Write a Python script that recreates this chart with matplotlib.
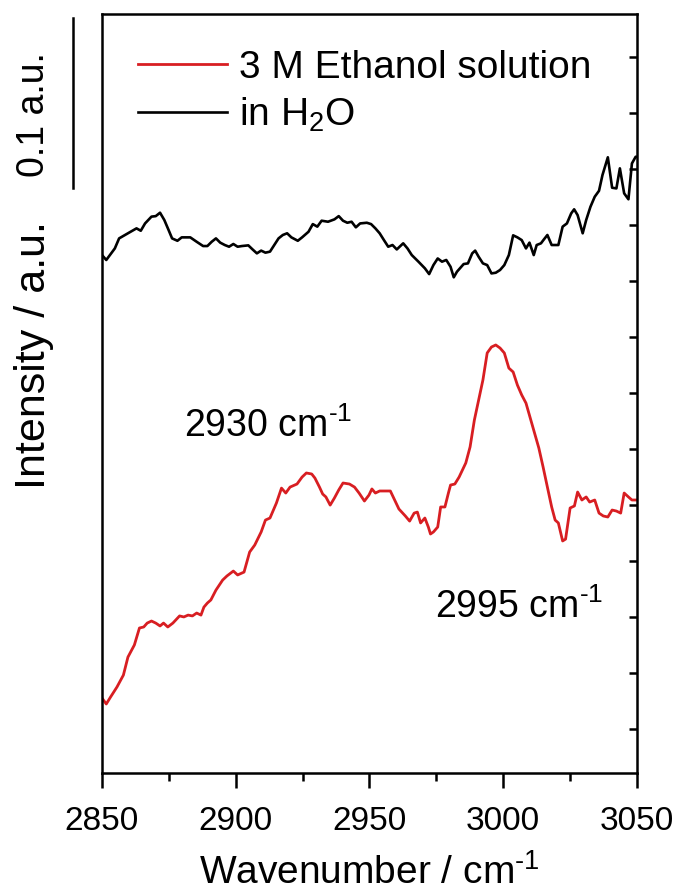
import numpy as np
import matplotlib
matplotlib.use("Agg")
import matplotlib.pyplot as plt
from matplotlib.ticker import MultipleLocator

plt.rcParams['font.family'] = ['Liberation Sans', 'DejaVu Sans']
plt.rcParams['mathtext.fontset'] = 'custom'
plt.rcParams['mathtext.rm'] = 'Liberation Sans'
plt.rcParams['mathtext.it'] = 'Liberation Sans:italic'
plt.rcParams['mathtext.bf'] = 'Liberation Sans:bold'

# 3 M ethanol solution (red), wavenumber in cm-1, intensity in a.u.
wn_eth = [2850.0, 2851.6, 2853.2, 2855.6, 2858.0, 2859.7, 2862.1, 2864.0, 2865.6, 2866.9,
          2868.5, 2870.1, 2871.7, 2873.0, 2874.6, 2876.5, 2879.0, 2880.6, 2882.2, 2883.8,
          2885.4, 2887.0, 2888.1, 2889.4, 2890.7, 2892.6, 2895.1, 2896.7, 2899.1, 2900.7,
          2903.1, 2905.2, 2907.1, 2909.5, 2911.1, 2912.8, 2915.2, 2917.1, 2918.7, 2920.3,
          2922.9, 2924.8, 2926.4, 2928.4, 2929.6, 2931.3, 2932.5, 2933.7, 2935.3, 2936.9,
          2938.5, 2940.1, 2942.5, 2944.4, 2946.1, 2948.1, 2949.8, 2950.9, 2952.2, 2953.8,
          2956.2, 2957.8, 2959.4, 2961.0, 2963.4, 2965.0, 2966.7, 2967.9, 2969.1, 2970.7,
          2972.0, 2972.8, 2973.9, 2975.5, 2976.6, 2978.2, 2979.5, 2980.3, 2981.9, 2983.5,
          2986.0, 2987.6, 2989.2, 2990.8, 2992.4, 2994.0, 2995.6, 2997.2, 2998.8, 3000.4,
          3002.1, 3003.7, 3005.3, 3006.9, 3008.5, 3010.1, 3011.7, 3013.3, 3014.9, 3016.5,
          3018.1, 3019.4, 3020.6, 3022.2, 3023.3, 3025.0, 3026.6, 3027.8, 3029.4, 3031.0,
          3032.3, 3034.2, 3035.8, 3037.4, 3039.1, 3040.7, 3042.3, 3043.9, 3045.2, 3046.8,
          3048.1, 3050.0]
int_eth = [0.0441, 0.0406, 0.0447, 0.0506, 0.0576, 0.0682, 0.0753, 0.0853, 0.0859, 0.0882,
           0.0894, 0.0882, 0.0865, 0.0882, 0.0859, 0.0882, 0.0924, 0.0918, 0.0929, 0.0924,
           0.0941, 0.0929, 0.0976, 0.1000, 0.1018, 0.1076, 0.1135, 0.1159, 0.1188, 0.1165,
           0.1182, 0.1300, 0.1341, 0.1418, 0.1488, 0.1500, 0.1588, 0.1676, 0.1647, 0.1682,
           0.1700, 0.1741, 0.1765, 0.1759, 0.1735, 0.1682, 0.1641, 0.1624, 0.1576, 0.1618,
           0.1665, 0.1706, 0.1700, 0.1682, 0.1647, 0.1600, 0.1635, 0.1671, 0.1647, 0.1659,
           0.1659, 0.1659, 0.1606, 0.1553, 0.1512, 0.1482, 0.1529, 0.1535, 0.1471, 0.1500,
           0.1447, 0.1406, 0.1418, 0.1447, 0.1565, 0.1565, 0.1647, 0.1694, 0.1700, 0.1741,
           0.1824, 0.1918, 0.2076, 0.2194, 0.2312, 0.2471, 0.2506, 0.2518, 0.2500, 0.2471,
           0.2382, 0.2359, 0.2282, 0.2224, 0.2176, 0.2088, 0.2000, 0.1912, 0.1800, 0.1682,
           0.1565, 0.1488, 0.1471, 0.1365, 0.1376, 0.1559, 0.1571, 0.1653, 0.1606, 0.1624,
           0.1594, 0.1606, 0.1529, 0.1512, 0.1506, 0.1547, 0.1541, 0.1529, 0.1647, 0.1624,
           0.1606, 0.1606]

# in H2O (black)
wn_h2o = [2850.0, 2851.6, 2854.8, 2856.4, 2859.7, 2862.9, 2864.5, 2866.1, 2868.5, 2870.1,
          2871.7, 2873.3, 2874.9, 2876.2, 2878.2, 2879.8, 2883.0, 2885.4, 2887.8, 2889.4,
          2891.0, 2892.6, 2894.2, 2895.9, 2897.5, 2899.1, 2900.7, 2902.3, 2904.7, 2906.3,
          2907.9, 2909.5, 2911.1, 2912.8, 2914.4, 2916.0, 2917.6, 2919.2, 2920.8, 2923.2,
          2924.8, 2927.2, 2928.8, 2930.5, 2932.1, 2934.5, 2936.9, 2938.5, 2940.1, 2941.7,
          2943.3, 2944.9, 2946.5, 2949.0, 2950.6, 2952.2, 2953.8, 2955.4, 2957.0, 2958.6,
          2960.2, 2962.6, 2964.2, 2965.8, 2968.3, 2970.7, 2972.3, 2973.9, 2975.5, 2977.1,
          2978.7, 2980.3, 2981.5, 2982.7, 2985.2, 2986.8, 2988.4, 2989.5, 2990.8, 2992.4,
          2994.0, 2995.6, 2997.2, 2998.8, 3000.4, 3002.1, 3003.7, 3005.3, 3006.9, 3008.5,
          3009.8, 3011.4, 3012.5, 3014.1, 3015.2, 3016.5, 3018.1, 3020.6, 3022.2, 3023.8,
          3025.4, 3026.5, 3027.8, 3029.7, 3031.0, 3032.6, 3034.2, 3035.8, 3037.1, 3039.1,
          3040.7, 3042.3, 3043.6, 3045.2, 3046.8, 3048.1, 3049.5, 3050.0]
int_h2o = [0.3047, 0.3018, 0.3086, 0.3145, 0.3175, 0.3204, 0.3190, 0.3233, 0.3273, 0.3276,
           0.3296, 0.3253, 0.3194, 0.3145, 0.3131, 0.3151, 0.3151, 0.3125, 0.3100, 0.3100,
           0.3125, 0.3145, 0.3120, 0.3106, 0.3096, 0.3112, 0.3096, 0.3100, 0.3104, 0.3080,
           0.3057, 0.3073, 0.3061, 0.3067, 0.3106, 0.3145, 0.3165, 0.3175, 0.3151, 0.3131,
           0.3151, 0.3184, 0.3229, 0.3214, 0.3249, 0.3243, 0.3257, 0.3276, 0.3249, 0.3237,
           0.3243, 0.3210, 0.3233, 0.3237, 0.3229, 0.3204, 0.3175, 0.3135, 0.3096, 0.3106,
           0.3080, 0.3116, 0.3086, 0.3047, 0.3008, 0.2969, 0.2935, 0.2988, 0.3027, 0.3008,
           0.3018, 0.2978, 0.2916, 0.2949, 0.2994, 0.2998, 0.3057, 0.3073, 0.3037, 0.2998,
           0.2988, 0.2939, 0.2943, 0.2959, 0.2988, 0.3047, 0.3163, 0.3151, 0.3135, 0.3086,
           0.3120, 0.3047, 0.3106, 0.3116, 0.3139, 0.3165, 0.3106, 0.3106, 0.3214, 0.3233,
           0.3292, 0.3316, 0.3282, 0.3175, 0.3253, 0.3331, 0.3390, 0.3425, 0.3518, 0.3622,
           0.3443, 0.3439, 0.3557, 0.3410, 0.3375, 0.3586, 0.3625, 0.3625]

red = '#d81e22'

fig = plt.figure(figsize=(6.75, 8.92), dpi=100)
ax = fig.add_axes([0.1511, 0.1334, 0.7926, 0.8509])

ax.plot(wn_eth, int_eth, color=red, lw=2.0, label='3 M Ethanol solution')
ax.plot(wn_h2o, int_h2o, color='black', lw=1.9, label='in H$_2$O')

ax.set_xlim(2850, 3050)
ax.set_ylim(0, 0.4465)

for s in ax.spines.values():
    s.set_linewidth(1.8)

# bottom axis: labelled majors, minors in between, ticks pointing out
ax.xaxis.set_major_locator(MultipleLocator(50))
ax.xaxis.set_minor_locator(MultipleLocator(25))
ax.tick_params(axis='x', which='major', direction='out', length=11, width=1.8,
               labelsize=24, pad=13, top=False)
ax.tick_params(axis='x', which='minor', direction='out', length=5.5, width=1.8, top=False)

# unlabelled ticks on the right spine only
ax.set_yticks(0.0259 + 0.03294 * np.arange(13))
ax.tick_params(axis='y', which='both', direction='in', length=6, width=1.8,
               left=False, right=True, labelleft=False, labelright=False)

ax.set_xlabel(r'Wavenumber / cm$^{\text{-}1}$', fontsize=28, labelpad=12)

# y label and intensity scale bar sit outside the frame
ytr = ax.get_yaxis_transform()
ax.text(-0.128, 0.2460, 'Intensity / a.u.', transform=ytr, rotation=90,
        ha='center', va='center', fontsize=31)
ax.plot([-0.054, -0.054], [0.344, 0.444], transform=ytr, color='black',
        lw=1.8, clip_on=False)
ax.text(-0.128, 0.3876, '0.1 a.u.', transform=ytr, rotation=90,
        ha='center', va='center', fontsize=27)

ax.text(2880.7, 0.1976, r'2930 cm$^{\text{-}1}$', fontsize=27, ha='left', va='baseline')
ax.text(2974.5, 0.0912, r'2995 cm$^{\text{-}1}$', fontsize=27, ha='left', va='baseline')

ax.legend(loc='upper left', bbox_to_anchor=(0.067, 0.953), frameon=False,
          fontsize=28, handlelength=2.3, handletextpad=0.3, labelspacing=0.25,
          borderpad=0, borderaxespad=0)

fig.savefig('out.png', dpi=100)
